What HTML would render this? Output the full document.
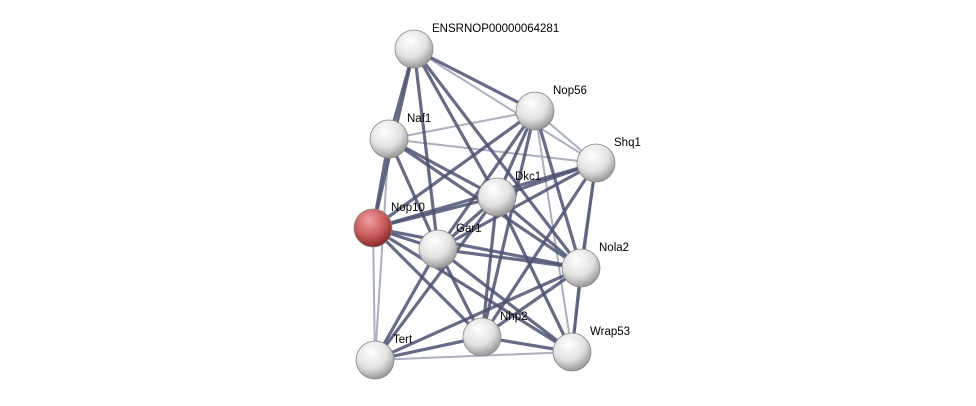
<!DOCTYPE html>
<html><head><meta charset="utf-8"><style>
html,body{margin:0;padding:0;background:#fff;}
svg{display:block}
text{font-family:"Liberation Sans",sans-serif;font-size:11.5px;fill:#000}
</style></head><body>
<svg width="976" height="406" viewBox="0 0 976 406" xmlns="http://www.w3.org/2000/svg">
<defs>
<radialGradient id="g" cx="40%" cy="30%" r="70%">
<stop offset="0" stop-color="#ffffff"/><stop offset="0.6" stop-color="#e2e2e2"/><stop offset="1" stop-color="#9a9a9a"/>
</radialGradient>
<radialGradient id="r" cx="40%" cy="30%" r="70%">
<stop offset="0" stop-color="#f0a0a0"/><stop offset="0.6" stop-color="#c85a5a"/><stop offset="1" stop-color="#8a2a2a"/>
</radialGradient>
</defs>
<g stroke="#aab0c0" stroke-width="2" stroke-linecap="round">
<line x1="414" y1="49" x2="596" y2="163"/>
<line x1="535" y1="111" x2="389" y2="139"/>
<line x1="535" y1="111" x2="596" y2="163"/>
<line x1="535" y1="111" x2="572" y2="352"/>
<line x1="389" y1="139" x2="596" y2="163"/>
<line x1="389" y1="139" x2="375" y2="360"/>
<line x1="596" y1="163" x2="572" y2="352"/>
<line x1="373" y1="228" x2="375" y2="360"/>
<line x1="375" y1="360" x2="572" y2="352"/>
</g>
<g stroke="#4b5272" stroke-width="3.2" stroke-opacity="0.85" stroke-linecap="round">
<line x1="414" y1="49" x2="389" y2="139"/>
<line x1="414" y1="49" x2="535" y2="111"/>
<line x1="414" y1="49" x2="497" y2="197"/>
<line x1="414" y1="49" x2="438" y2="249"/>
<line x1="414" y1="49" x2="373" y2="228"/>
<line x1="414" y1="49" x2="581" y2="268"/>
<line x1="535" y1="111" x2="497" y2="197"/>
<line x1="535" y1="111" x2="438" y2="249"/>
<line x1="535" y1="111" x2="373" y2="228"/>
<line x1="535" y1="111" x2="581" y2="268"/>
<line x1="535" y1="111" x2="482" y2="337"/>
<line x1="389" y1="139" x2="497" y2="197"/>
<line x1="389" y1="139" x2="438" y2="249"/>
<line x1="389" y1="139" x2="373" y2="228"/>
<line x1="389" y1="139" x2="581" y2="268"/>
<line x1="596" y1="163" x2="497" y2="197"/>
<line x1="596" y1="163" x2="438" y2="249"/>
<line x1="596" y1="163" x2="373" y2="228"/>
<line x1="596" y1="163" x2="581" y2="268"/>
<line x1="596" y1="163" x2="482" y2="337"/>
<line x1="497" y1="197" x2="373" y2="228"/>
<line x1="497" y1="197" x2="438" y2="249"/>
<line x1="497" y1="197" x2="581" y2="268"/>
<line x1="497" y1="197" x2="482" y2="337"/>
<line x1="497" y1="197" x2="572" y2="352"/>
<line x1="497" y1="197" x2="375" y2="360"/>
<line x1="373" y1="228" x2="438" y2="249"/>
<line x1="373" y1="228" x2="581" y2="268"/>
<line x1="373" y1="228" x2="482" y2="337"/>
<line x1="373" y1="228" x2="572" y2="352"/>
<line x1="438" y1="249" x2="581" y2="268"/>
<line x1="438" y1="249" x2="482" y2="337"/>
<line x1="438" y1="249" x2="572" y2="352"/>
<line x1="438" y1="249" x2="375" y2="360"/>
<line x1="581" y1="268" x2="482" y2="337"/>
<line x1="581" y1="268" x2="572" y2="352"/>
<line x1="581" y1="268" x2="375" y2="360"/>
<line x1="482" y1="337" x2="572" y2="352"/>
<line x1="482" y1="337" x2="375" y2="360"/>
</g>
<g stroke="#888" stroke-width="0.8">
<circle cx="414" cy="49" r="19" fill="url(#g)"/>
<circle cx="535" cy="111" r="19" fill="url(#g)"/>
<circle cx="389" cy="139" r="19" fill="url(#g)"/>
<circle cx="596" cy="163" r="19" fill="url(#g)"/>
<circle cx="497" cy="197" r="19" fill="url(#g)"/>
<circle cx="373" cy="228" r="19" fill="url(#r)"/>
<circle cx="438" cy="249" r="19" fill="url(#g)"/>
<circle cx="581" cy="268" r="19" fill="url(#g)"/>
<circle cx="482" cy="337" r="19" fill="url(#g)"/>
<circle cx="572" cy="352" r="19" fill="url(#g)"/>
<circle cx="375" cy="360" r="19" fill="url(#g)"/>
</g>
<text x="432" y="32">ENSRNOP00000064281</text>
<text x="553" y="94">Nop56</text>
<text x="407" y="122">Naf1</text>
<text x="614" y="146">Shq1</text>
<text x="515" y="180">Dkc1</text>
<text x="391" y="211">Nop10</text>
<text x="456" y="232">Gar1</text>
<text x="599" y="251">Nola2</text>
<text x="500" y="320">Nhp2</text>
<text x="590" y="335">Wrap53</text>
<text x="393" y="343">Tert</text>
</svg>
</body></html>
